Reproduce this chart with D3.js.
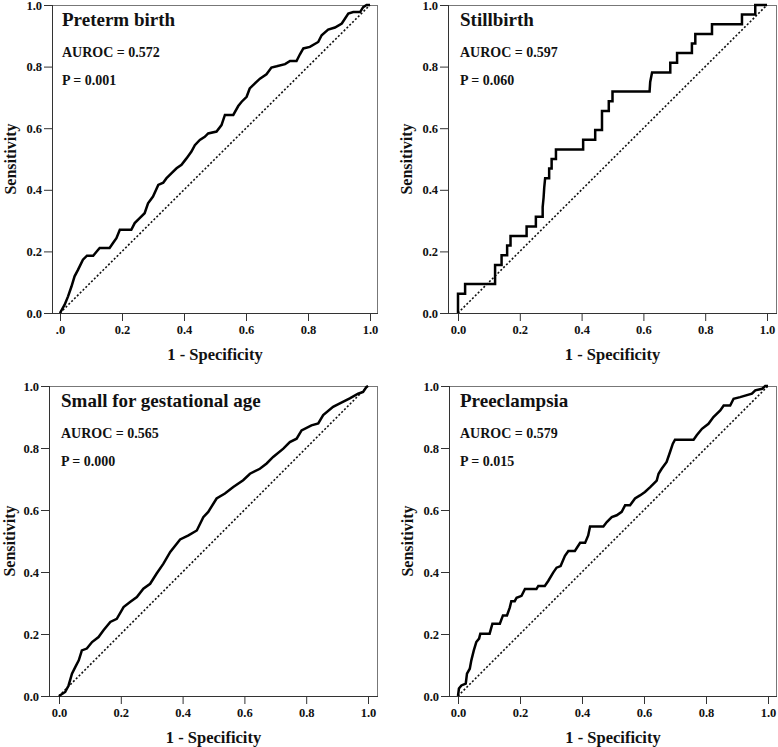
<!DOCTYPE html>
<html><head><meta charset="utf-8">
<script src="https://cdnjs.cloudflare.com/ajax/libs/d3/7.8.5/d3.min.js"></script>
<style>
html,body{margin:0;padding:0;background:#fff;}
svg text{font-family:"Liberation Serif","Times New Roman",serif;font-weight:bold;fill:#111;}
</style></head>
<body><svg id="c" width="778" height="747"></svg>
<script>
// ---- data ----
const panelTitles = ["Preterm birth", "Stillbirth", "Small for gestational age", "Preeclampsia"];
const aurocLabels = ["AUROC = 0.572", "AUROC = 0.597", "AUROC = 0.565", "AUROC = 0.579"];
const pLabels = ["P = 0.001", "P = 0.060", "P = 0.000", "P = 0.015"];
const tickValues = [0, 0.2, 0.4, 0.6, 0.8, 1.0];
const yTickLabels = ["0.0", "0.2", "0.4", "0.6", "0.8", "1.0"];
const xTickLabelsFirst = [".0", "0.2", "0.4", "0.6", "0.8", "1.0"];
const xTickLabels = ["0.0", "0.2", "0.4", "0.6", "0.8", "1.0"];
const xAxisTitle = "1 - Specificity";
const yAxisTitle = "Sensitivity";

const pretermROC = [[0,0],[0.015,0.027],[0.026,0.054],[0.037,0.086],[0.047,0.119],[0.058,0.14],[0.074,0.173],[0.087,0.186],[0.107,0.186],[0.117,0.198],[0.128,0.211],[0.16,0.211],[0.171,0.227],[0.182,0.243],[0.193,0.27],[0.23,0.27],[0.241,0.292],[0.257,0.308],[0.273,0.324],[0.284,0.356],[0.3,0.378],[0.317,0.416],[0.333,0.423],[0.343,0.437],[0.36,0.454],[0.376,0.47],[0.392,0.481],[0.408,0.502],[0.424,0.524],[0.435,0.545],[0.451,0.562],[0.467,0.572],[0.478,0.583],[0.505,0.589],[0.521,0.61],[0.532,0.643],[0.559,0.643],[0.575,0.672],[0.586,0.686],[0.602,0.702],[0.612,0.729],[0.628,0.745],[0.645,0.761],[0.666,0.775],[0.682,0.797],[0.699,0.801],[0.726,0.808],[0.742,0.818],[0.763,0.818],[0.774,0.84],[0.785,0.859],[0.806,0.864],[0.833,0.88],[0.844,0.902],[0.865,0.92],[0.887,0.927],[0.909,0.94],[0.93,0.972],[0.946,0.977],[0.968,0.977],[0.978,0.993],[0.989,1],[1,1]];

const stillbirthROC = [[0,0],[0,0.0625],[0.023,0.0625],[0.023,0.094],[0.12,0.094],[0.12,0.156],[0.141,0.156],[0.141,0.1875],[0.159,0.1875],[0.159,0.219],[0.17,0.219],[0.17,0.25],[0.222,0.25],[0.222,0.281],[0.252,0.281],[0.252,0.3125],[0.274,0.3125],[0.274,0.344],[0.277,0.375],[0.279,0.406],[0.282,0.4375],[0.295,0.4375],[0.295,0.469],[0.303,0.469],[0.303,0.5],[0.317,0.5],[0.317,0.531],[0.405,0.531],[0.405,0.5625],[0.444,0.5625],[0.444,0.594],[0.466,0.594],[0.466,0.656],[0.488,0.656],[0.488,0.6875],[0.5,0.6875],[0.5,0.719],[0.62,0.719],[0.622,0.75],[0.628,0.781],[0.687,0.781],[0.687,0.8125],[0.709,0.8125],[0.709,0.844],[0.757,0.844],[0.757,0.875],[0.768,0.875],[0.768,0.906],[0.822,0.906],[0.822,0.9375],[0.919,0.9375],[0.919,0.969],[0.962,0.969],[0.962,1],[1,1]];

const sgaROC = [[0,0],[0.02,0.013],[0.031,0.034],[0.042,0.072],[0.053,0.094],[0.064,0.115],[0.074,0.147],[0.09,0.153],[0.107,0.174],[0.128,0.19],[0.144,0.212],[0.166,0.239],[0.187,0.249],[0.209,0.287],[0.23,0.303],[0.252,0.319],[0.273,0.346],[0.295,0.362],[0.316,0.395],[0.338,0.427],[0.36,0.465],[0.392,0.505],[0.419,0.518],[0.446,0.534],[0.467,0.577],[0.483,0.594],[0.51,0.637],[0.537,0.653],[0.564,0.674],[0.596,0.696],[0.618,0.717],[0.65,0.733],[0.672,0.75],[0.693,0.771],[0.726,0.798],[0.747,0.819],[0.769,0.83],[0.785,0.857],[0.817,0.873],[0.839,0.879],[0.855,0.906],[0.887,0.933],[0.909,0.944],[0.941,0.96],[0.968,0.975],[0.984,0.981],[0.995,0.997],[1,1]];

const preeclampsiaROC = [[0,0],[0.003,0.024],[0.011,0.034],[0.025,0.04],[0.029,0.072],[0.038,0.088],[0.043,0.115],[0.051,0.147],[0.059,0.174],[0.068,0.185],[0.072,0.201],[0.102,0.201],[0.111,0.233],[0.135,0.233],[0.145,0.26],[0.158,0.26],[0.167,0.285],[0.172,0.306],[0.183,0.306],[0.189,0.317],[0.205,0.323],[0.216,0.345],[0.253,0.345],[0.259,0.355],[0.28,0.355],[0.291,0.371],[0.307,0.398],[0.318,0.414],[0.331,0.419],[0.345,0.452],[0.356,0.468],[0.377,0.468],[0.394,0.494],[0.41,0.494],[0.42,0.518],[0.426,0.547],[0.469,0.547],[0.48,0.561],[0.496,0.577],[0.512,0.583],[0.528,0.594],[0.539,0.615],[0.555,0.615],[0.571,0.637],[0.587,0.647],[0.603,0.658],[0.62,0.674],[0.641,0.695],[0.647,0.717],[0.657,0.733],[0.673,0.755],[0.684,0.787],[0.693,0.814],[0.7,0.827],[0.76,0.827],[0.77,0.841],[0.787,0.862],[0.808,0.878],[0.824,0.9],[0.846,0.921],[0.857,0.937],[0.878,0.937],[0.889,0.959],[0.91,0.964],[0.948,0.975],[0.959,0.986],[0.981,0.991],[0.991,1],[1,1]];

const rocSeries = [pretermROC, stillbirthROC, sgaROC, preeclampsiaROC];
const diagonal = [[0,0],[1,1]];

// ---- layout ----
const layout = [
  {fl:52, x0:60, x1:370, fr:378, top:5, bot:313},
  {fl:448, x0:458, x1:767, fr:777, top:5, bot:313},
  {fl:49, x0:59, x1:368, fr:378, top:386, bot:696},
  {fl:449, x0:458, x1:768, fr:777, top:386, bot:696}
];

const svg = d3.select("#c");

layout.forEach((L, i) => {
  const x = d3.scaleLinear().domain([0,1]).range([L.x0, L.x1]);
  const y = d3.scaleLinear().domain([0,1]).range([L.bot, L.top]);
  const g = svg.append("g");

  // frame (top/right lighter)
  g.append("line").attr("x1",L.fl).attr("x2",L.fr).attr("y1",L.top+0.5).attr("y2",L.top+0.5).attr("stroke","#777").attr("stroke-width",1);
  g.append("line").attr("x1",L.fr-0.5).attr("x2",L.fr-0.5).attr("y1",L.top).attr("y2",L.bot).attr("stroke","#777").attr("stroke-width",1);

  // axes
  const xLabels = i === 0 ? xTickLabelsFirst : xTickLabels;
  const xAxis = d3.axisBottom(x).tickValues(tickValues).tickSize(8).tickPadding(4)
    .tickFormat((d,k) => xLabels[k]);
  const gx = g.append("g").attr("transform",`translate(0,${L.bot})`).call(xAxis);
  gx.select(".domain").remove();
  gx.append("line").attr("x1",L.fl).attr("x2",L.fr).attr("y1",0.5).attr("y2",0.5).attr("stroke","#333").attr("stroke-width",1);
  gx.selectAll(".tick line").attr("stroke","#333");
  gx.selectAll(".tick text").attr("font-size",12.5).attr("fill","#111").attr("font-family","Liberation Serif").attr("font-weight","bold");

  const yAxis = d3.axisLeft(y).tickValues(tickValues).tickSize(8).tickPadding(2)
    .tickFormat((d,k) => yTickLabels[k]);
  const gy = g.append("g").attr("transform",`translate(${L.fl},0)`).call(yAxis);
  gy.select(".domain").remove();
  gy.append("line").attr("x1",0.5).attr("x2",0.5).attr("y1",L.top).attr("y2",L.bot).attr("stroke","#333").attr("stroke-width",1);
  gy.selectAll(".tick line").attr("stroke","#333");
  gy.selectAll(".tick text").attr("font-size",12.5).attr("fill","#111").attr("font-family","Liberation Serif").attr("font-weight","bold");

  // diagonal
  const line = d3.line().x(d => x(d[0])).y(d => y(d[1]));
  g.append("path").datum(diagonal).attr("d",line).attr("fill","none")
    .attr("stroke","#111").attr("stroke-width",1.6).attr("stroke-dasharray","2,2");

  // ROC curve
  g.append("path").datum(rocSeries[i]).attr("d",line).attr("fill","none")
    .attr("stroke","#000").attr("stroke-width",2.5).attr("stroke-linejoin","miter");

  // texts
  g.append("text").attr("x",L.x0+2).attr("y",L.top+21).attr("font-size",19).text(panelTitles[i]);
  g.append("text").attr("x",L.x0+2).attr("y",L.top+52).attr("font-size",14).text(aurocLabels[i]);
  g.append("text").attr("x",L.x0+2).attr("y",L.top+80).attr("font-size",14).text(pLabels[i]);

  g.append("text").attr("x",(L.x0+L.x1)/2).attr("y",L.bot+47).attr("text-anchor","middle")
    .attr("font-size",16.5).text(xAxisTitle);
  g.append("text").attr("transform",`translate(${Math.max(L.fl-36, 15)},${(L.top+L.bot)/2}) rotate(-90)`)
    .attr("text-anchor","middle").attr("font-size",16).text(yAxisTitle);
});
</script></body></html>
